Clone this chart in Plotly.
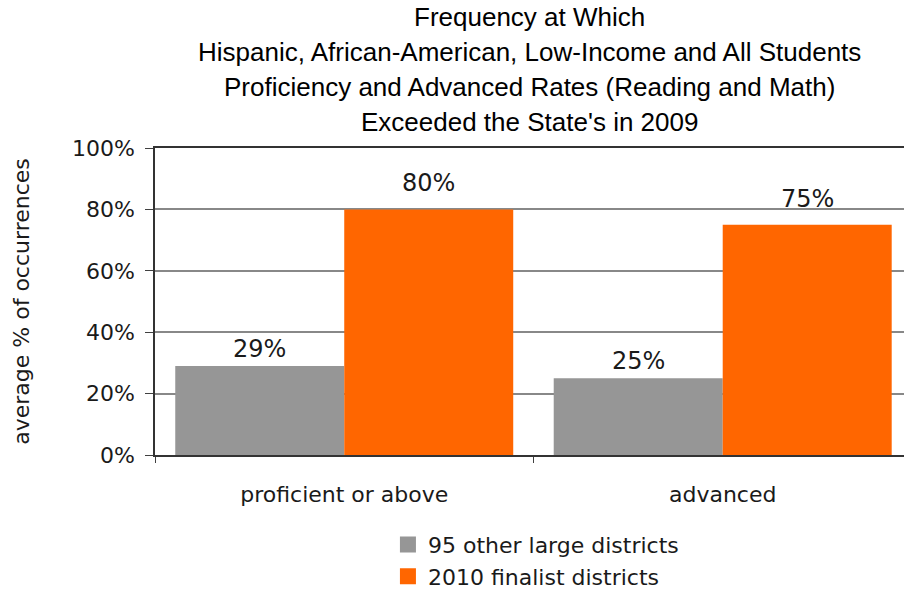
import plotly.graph_objects as go

categories = ["proficient or above", "advanced"]
series_names = ["95 other large districts", "2010 finalist districts"]
other_large = [29, 25]
finalists = [80, 75]
colors = ["#969696", "#FF6600"]

title_lines = [
    "Frequency at Which",
    "Hispanic, African-American, Low-Income and All Students",
    "Proficiency and Advanced Rates (Reading and Math)",
    "Exceeded the State's in 2009",
]

TEXT = "#1a1a1a"
BODY_FONT = "DejaVu Sans"
BARGAP = 0.107
PLOT_TOP, PLOT_H = 148, 307

fig = go.Figure()
series = [other_large, finalists]
for name, vals, col in zip(series_names, series, colors):
    fig.add_trace(go.Bar(
        x=categories, y=vals, name=name,
        marker=dict(color=col, line=dict(width=0)),
        showlegend=False,
    ))
    # square legend swatch
    fig.add_trace(go.Scatter(
        x=[None], y=[None], mode="markers", name=name,
        marker=dict(symbol="square", size=17, color=col),
    ))

# value labels above each bar (bar centres offset from the category centre)
half = (1 - BARGAP) / 4
label_lift = [1, 10]
for s, vals in enumerate(series):
    for i, v in enumerate(vals):
        fig.add_annotation(
            x=i + (-half if s == 0 else half), y=v, xref="x", yref="y",
            text=f"{v}%", showarrow=False, yanchor="bottom", yshift=label_lift[s],
            font=dict(size=24, color=TEXT, family=BODY_FONT),
        )

# multi-line heading, one line per annotation
for k, line in enumerate(title_lines):
    centre_px = 17 + 35 * k
    fig.add_annotation(
        x=0.5, xref="paper", y=1 + (PLOT_TOP - centre_px) / PLOT_H, yref="paper",
        text=line, showarrow=False, xanchor="center", yanchor="middle",
        font=dict(family="Liberation Sans", size=26, color="black"),
    )

fig.update_layout(
    width=904, height=590,
    margin=dict(l=155, r=0, t=PLOT_TOP, b=590 - PLOT_TOP - PLOT_H, autoexpand=False),
    paper_bgcolor="white", plot_bgcolor="white",
    barmode="group", bargap=BARGAP, bargroupgap=0,
    font=dict(family=BODY_FONT, color=TEXT, size=22),
    legend=dict(
        x=0.311, xref="paper", xanchor="left",
        y=-0.224, yanchor="top",
        font=dict(size=22, color=TEXT, family=BODY_FONT),
        itemwidth=30, tracegroupgap=0, bgcolor="rgba(0,0,0,0)",
    ),
    xaxis=dict(
        range=[-0.5, 1.479],
        showline=True, linecolor="#333333", linewidth=1.5, mirror=True,
        ticks="outside", ticklen=6, tickcolor="#404040",
        tickson="boundaries", showgrid=False,
        tickfont=dict(size=22, color=TEXT, family=BODY_FONT),
        ticklabelstandoff=19,
    ),
    yaxis=dict(
        range=[0, 100], dtick=20, ticksuffix="%",
        showline=True, linecolor="#333333", linewidth=1.5,
        ticks="outside", ticklen=8, tickcolor="#404040",
        ticklabelstandoff=6,
        showgrid=True, gridcolor="#888888", gridwidth=1.5,
        tickfont=dict(size=22, color=TEXT, family=BODY_FONT),
        title=dict(text="average % of occurrences", standoff=36,
                   font=dict(size=22, color=TEXT, family=BODY_FONT)),
        zeroline=False,
    ),
)

fig.write_html("out.html")
